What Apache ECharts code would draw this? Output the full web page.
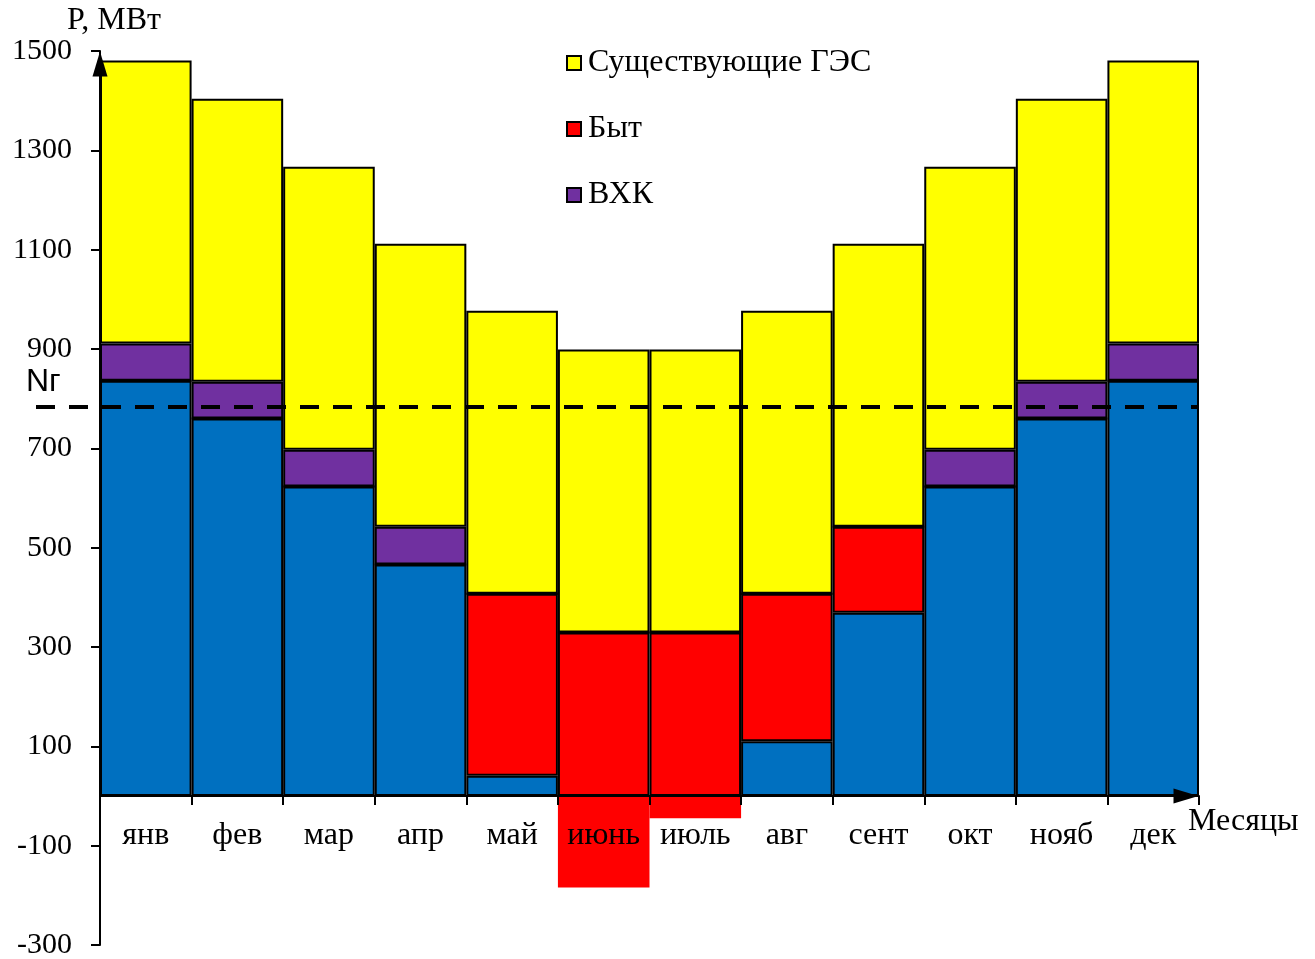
<!DOCTYPE html>
<html>
<head>
<meta charset="utf-8">
<script src="https://cdn.jsdelivr.net/npm/echarts@6/dist/echarts.min.js"></script>
<style>html,body{margin:0;padding:0;background:#fff}#c{width:1315px;height:959px}</style>
</head>
<body>
<div id="c"></div>
<script>
const categories = ['янв','фев','мар','апр','май','июнь','июль','авг','сент','окт','нояб','дек'];
const baseValues = [836, 760, 623, 466, 41, 0, 0, 110, 369, 623, 760, 836];
const bytValues = [0, 0, 0, 0, 366, 329, 329, 297, 173, 0, 0, 0];
const bytNegValues = ['-', '-', '-', '-', '-', -184, -45, '-', '-', '-', '-', '-'];
const vhkValues = [75, 74, 74, 76, 0, 0, 0, 0, 0, 74, 74, 75];
const gesValues = [570, 570, 570, 570, 570, 570, 570, 570, 570, 570, 570, 570];
const ngValue = 784;
const yTicks = { min: -300, max: 1500, interval: 200 };

const FONT = 'Liberation Serif';
const border = { borderColor: '#000', borderWidth: 2 };

const chart = echarts.init(document.getElementById('c'), null, { renderer: 'canvas' });
const option = {
  animation: false,
  backgroundColor: '#fff',
  textStyle: { fontFamily: FONT },
  grid: { left: 100, right: 116, top: 51, bottom: 14, containLabel: false, outerBoundsMode: 'none' },
  legend: {
    data: ['Существующие ГЭС', 'Быт', 'ВХК'],
    orient: 'vertical',
    left: 561,
    top: 41,
    itemWidth: 14,
    itemHeight: 14,
    itemGap: 32,
    icon: 'rect',
    textStyle: { fontFamily: FONT, fontSize: 32, color: '#000', lineHeight: 34, padding: [0, 0, 0, 2] }
  },
  xAxis: {
    type: 'category',
    data: categories,
    z: 5,
    offset: 0,
    name: 'Месяцы',
    nameLocation: 'end',
    nameGap: -11,
    nameTextStyle: { fontFamily: FONT, fontSize: 32, color: '#000', verticalAlign: 'top', lineHeight: 52 },
    axisLine: { onZero: false, lineStyle: { color: '#000', width: 2 }, symbol: ['none', 'triangle'], symbolSize: [15, 25], symbolOffset: [0, -13] },
    axisTick: { show: true, interval: 0, alignWithLabel: false, length: 9, lineStyle: { color: '#000', width: 2 } },
    axisLabel: { interval: 0, fontFamily: FONT, fontSize: 32, color: '#000', margin: 24, hideOverlap: false },
    splitLine: { show: false }
  },
  yAxis: {
    type: 'value',
    min: yTicks.min,
    max: yTicks.max,
    interval: yTicks.interval,
    z: 5,
    name: 'P, МВт',
    nameLocation: 'end',
    nameGap: 12,
    nameTextStyle: { fontFamily: FONT, fontSize: 32, color: '#000', padding: [0, 0, 0, 28] },
    axisLine: { show: true, lineStyle: { color: '#000', width: 2 }, symbol: ['none', 'triangle'], symbolSize: [15, 25], symbolOffset: [0, -13] },
    axisTick: { show: true, length: 9, lineStyle: { color: '#000', width: 2 } },
    axisLabel: { fontFamily: FONT, fontSize: 30, color: '#000', margin: 28, formatter: function (v) { return String(v); } },
    splitLine: { show: false }
  },
  series: [
    {
      name: 'base', type: 'bar', stack: 'p', data: baseValues,
      barCategoryGap: '0%',
      itemStyle: Object.assign({ color: '#0070C0' }, border),
      markLine: {
        silent: true,
        symbol: ['none', 'none'],
        z: 6,
        lineStyle: { color: '#000', width: 4, type: [19, 14] },
        label: { show: true, formatter: 'Nг', position: 'insideStartTop', fontFamily: 'Liberation Sans', fontSize: 32, color: '#000', distance: [-10, 8] },
        data: [[{ yAxis: ngValue, x: 36 }, { yAxis: ngValue, x: 1199 }]]
      }
    },
    { name: 'Быт', type: 'bar', stack: 'p', data: bytValues, barCategoryGap: '0%', itemStyle: Object.assign({ color: '#FF0000' }, border) },
    { name: 'ВХК', type: 'bar', stack: 'p', data: vhkValues, barCategoryGap: '0%', itemStyle: Object.assign({ color: '#7030A0' }, border) },
    { name: 'Существующие ГЭС', type: 'bar', stack: 'p', data: gesValues, barCategoryGap: '0%', itemStyle: Object.assign({ color: '#FFFF00' }, border) },
    { name: 'Быт (отрицат.)', type: 'bar', stack: 'p', data: bytNegValues, barCategoryGap: '0%', itemStyle: { color: '#FF0000', borderWidth: 0 } }
  ]
};
chart.setOption(option);
// place the category axis on the zero value line (derived from the value scale)
const zeroPx = chart.convertToPixel({ yAxisIndex: 0 }, 0);
const minPx = chart.convertToPixel({ yAxisIndex: 0 }, yTicks.min);
chart.setOption({ xAxis: { offset: zeroPx - minPx } });
</script>
</body>
</html>
